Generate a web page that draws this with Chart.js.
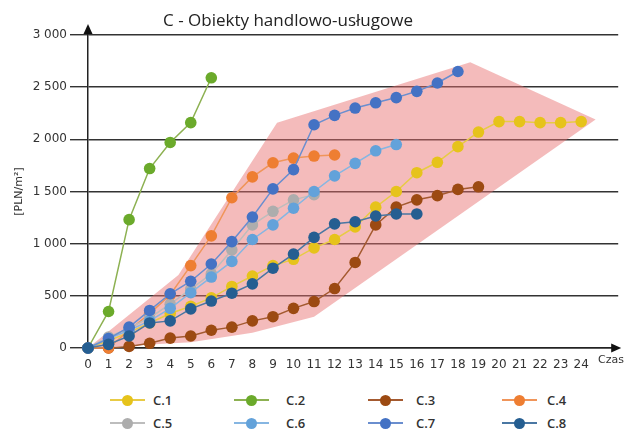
<!DOCTYPE html>
<html>
<head>
<meta charset="utf-8">
<script src="https://cdn.jsdelivr.net/npm/chart.js@4.4.0/dist/chart.umd.min.js"></script>
<style>
  html, body { margin: 0; padding: 0; background: #fff; }
  #wrap { position: relative; width: 624px; height: 430px; overflow: hidden; font-family: "Open Sans", sans-serif; }
  #title { position: absolute; left: 0; top: 8px; width: 576px; text-align: center; font-size: 17px; color: #222; }
  #chartBox { position: absolute; left: 0; top: 0; width: 624px; height: 375px; }
  .ln { position: absolute; width: 35px; height: 2px; }
  .dot { position: absolute; width: 11px; height: 11px; border-radius: 50%; }
  .tx { position: absolute; font-size: 13px; font-weight: 600; color: #333; line-height: 16px; }
</style>
</head>
<body>
<div id="wrap">
  <div id="chartBox"><canvas id="chart" width="624" height="375"></canvas></div>
  <div id="title">C - Obiekty handlowo-usługowe</div>
</div>
<script>
// czas (x) i wartości [PLN/m2]
const timeLabels = [0, 1, 2, 3, 4, 5, 6, 7, 8, 9, 10, 11, 12, 13, 14, 15, 16, 17, 18, 19, 20, 21, 22, 23, 24];
const yTicks = [0, 500, 1000, 1500, 2000, 2500, 3000];
const seriesNames = ["C.1", "C.2", "C.3", "C.4", "C.5", "C.6", "C.7", "C.8"];

const c1 = [0, 70, 150, 240, 330, 400, 480, 590, 690, 790, 850, 960, 1040, 1160, 1350, 1500, 1680, 1780, 1930, 2070, 2170, 2170, 2160, 2160, 2170];
const c2 = [0, 350, 1230, 1720, 1970, 2160, 2590];
const c3 = [0, 0, 15, 45, 95, 115, 170, 200, 260, 300, 380, 445, 570, 820, 1180, 1350, 1420, 1460, 1520, 1545];
const c4 = [0, 0, 170, 330, 510, 790, 1075, 1440, 1640, 1775, 1820, 1840, 1850];
const c5 = [0, 105, 190, 290, 420, 565, 710, 940, 1180, 1310, 1420, 1470];
const c6 = [0, 90, 170, 260, 380, 530, 680, 830, 1040, 1180, 1340, 1500, 1650, 1770, 1890, 1950];
const c7 = [0, 90, 200, 360, 520, 640, 805, 1020, 1255, 1525, 1710, 2140, 2230, 2300, 2350, 2400, 2460, 2540, 2650];
const c8 = [0, 35, 115, 240, 260, 375, 450, 525, 615, 765, 900, 1060, 1190, 1210, 1265, 1285, 1285];

// obszar zacieniony (wielokąt)
const shadeX = [0, 4.4, 9.2, 18.6, 24.7, 11.0, 8.0, 5.0, 0];
const shadeY = [0, 700, 2160, 2740, 2190, 300, 145, 55, 0];

const seriesValues = [c1, c2, c3, c4, c5, c6, c7, c8];
const colors = ["#e6c31b", "#6baa2b", "#9c4a12", "#ee7e32", "#adadad", "#63a2da", "#4472c4", "#255e91"];
const lineColors = ["#e8cb45", "#8db152", "#a45a30", "#f0955a", "#bdbdbd", "#86b6e2", "#6a8ecf", "#4a77a3"];

const fmt = (v) => String(v).replace(/\B(?=(\d{3})+(?!\d))/g, " ");

const datasets = seriesValues.map((vals, i) => ({
  label: seriesNames[i],
  data: vals.map((v, t) => ({ x: timeLabels[t], y: v })),
  borderColor: lineColors[i],
  borderWidth: 1.5,
  backgroundColor: colors[i],
  pointBackgroundColor: colors[i],
  pointBorderWidth: 0,
  pointRadius: 5.8,
  fill: false,
  tension: 0,
  clip: 10,
  order: 8 - i,
}));

datasets.push({
  label: "zakres",
  data: shadeX.map((x, i) => ({ x: x, y: shadeY[i] })),
  borderWidth: 0,
  borderColor: "rgba(0,0,0,0)",
  backgroundColor: "rgba(232,110,110,0.47)",
  pointRadius: 0,
  fill: "shape",
  tension: 0,
  order: 100,
});

const axisArrows = {
  id: "axisArrows",
  afterDraw(chart) {
    const { ctx, chartArea: a } = chart;
    ctx.save();
    ctx.strokeStyle = "#222";
    ctx.fillStyle = "#111";
    ctx.lineWidth = 1.5;
    ctx.beginPath();
    ctx.moveTo(a.left, a.top);
    ctx.lineTo(a.left, a.top - 5);
    ctx.stroke();
    ctx.beginPath();
    ctx.moveTo(a.left, a.top - 11);
    ctx.lineTo(a.left - 4.5, a.top - 1);
    ctx.lineTo(a.left + 4.5, a.top - 1);
    ctx.closePath();
    ctx.fill();
    ctx.beginPath();
    ctx.moveTo(a.right + 3, a.bottom);
    ctx.lineTo(a.right - 7, a.bottom - 4.5);
    ctx.lineTo(a.right - 7, a.bottom + 4.5);
    ctx.closePath();
    ctx.fill();
    ctx.font = '11px "DejaVu Sans"';
    ctx.fillStyle = "#333";
    ctx.textBaseline = "alphabetic";
    ctx.fillText("Czas", 598, a.bottom + 15);
    ctx.restore();
  },
};

new Chart(document.getElementById("chart"), {
  type: "line",
  data: { datasets: datasets },
  options: {
    responsive: false,
    animation: false,
    layout: { padding: { top: 35, right: 4, left: 0, bottom: 0 } },
    plugins: {
      legend: { display: false },
      title: { display: false },
      tooltip: { enabled: false },
    },
    scales: {
      x: {
        type: "linear",
        min: 0,
        max: 25.8,
        afterBuildTicks: (s) => { s.ticks = timeLabels.map((v) => ({ value: v })); },
        afterFit: (s) => { s.height = 375 - 348; },
        grid: { display: false, drawTicks: false },
        border: { display: true, color: "#222", width: 1.5 },
        ticks: {
          color: "#333",
          font: { family: "DejaVu Sans", size: 12 },
          padding: 10,
          maxRotation: 0,
          autoSkip: false,
        },
      },
      y: {
        min: 0,
        max: 3000,
        afterBuildTicks: (s) => { s.ticks = yTicks.map((v) => ({ value: v })); },
        afterFit: (s) => { s.width = 88; },
        grid: { color: "#333", lineWidth: 1.4, tickLength: 18, drawTicks: true },
        border: { display: true, color: "#222", width: 1.5 },
        ticks: {
          color: "#333",
          font: { family: "DejaVu Sans", size: 12 },
          padding: 3,
          callback: (v) => fmt(v),
        },
        title: {
          display: true,
          text: "[PLN/m²]",
          color: "#333",
          font: { family: "DejaVu Sans", size: 11 },
          padding: { top: 13, bottom: 0 },
        },
      },
    },
  },
  plugins: [axisArrows],
});

// legenda: 2 wiersze x 4 kolumny
const legendLineX = [110, 234, 368, 502];
const legendTextX = [153, 286, 416, 547];
const legendRowY = [400, 423];
const wrap = document.getElementById("wrap");
seriesNames.forEach((name, i) => {
  const col = i % 4;
  const row = Math.floor(i / 4);
  const cy = legendRowY[row];
  const ln = document.createElement("div");
  ln.className = "ln";
  ln.style.left = legendLineX[col] + "px";
  ln.style.top = (cy - 1) + "px";
  ln.style.background = lineColors[i];
  const dot = document.createElement("div");
  dot.className = "dot";
  dot.style.left = (legendLineX[col] + 12) + "px";
  dot.style.top = (cy - 5.5) + "px";
  dot.style.background = colors[i];
  const tx = document.createElement("div");
  tx.className = "tx";
  tx.style.left = legendTextX[col] + "px";
  tx.style.top = (cy - 8) + "px";
  tx.textContent = name;
  wrap.appendChild(ln);
  wrap.appendChild(dot);
  wrap.appendChild(tx);
});
</script>
</body>
</html>
